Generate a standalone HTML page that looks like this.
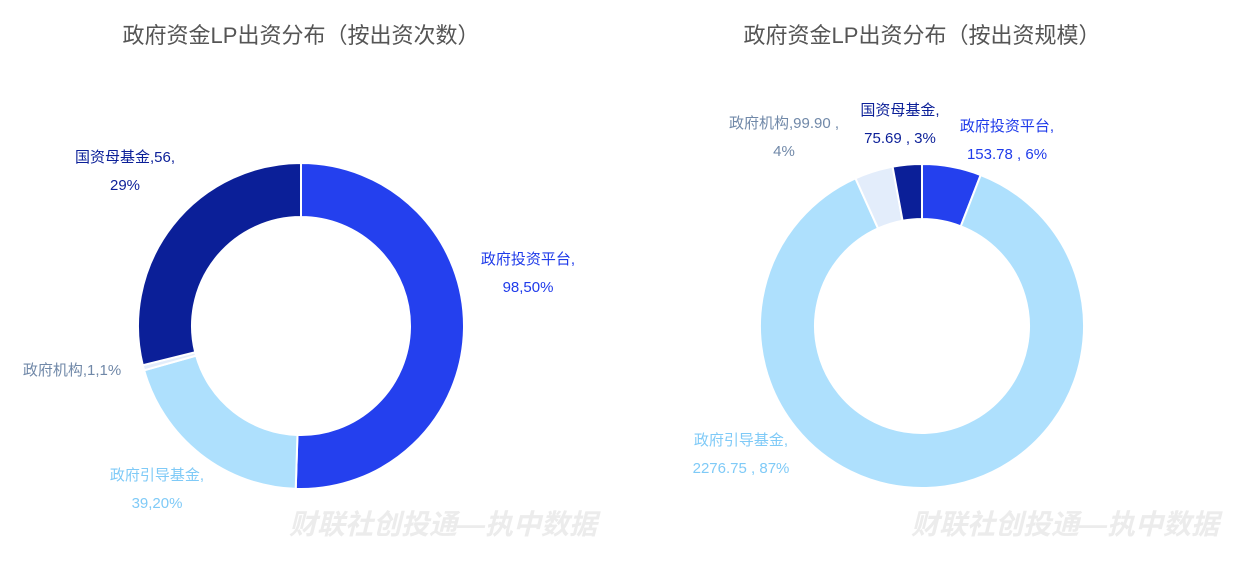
<!DOCTYPE html>
<html><head><meta charset="utf-8">
<style>
html,body{margin:0;padding:0;background:#fff;}
body{width:1242px;height:560px;overflow:hidden;font-family:"Liberation Sans","Noto Sans CJK SC",sans-serif;}
svg text{font-family:"Liberation Sans","Noto Sans CJK SC",sans-serif;}
</style></head>
<body>
<svg id="chart" width="1242" height="560" xmlns="http://www.w3.org/2000/svg">
<text x="301" y="43" text-anchor="middle" font-size="22" fill="#555">政府资金LP出资分布（按出资次数）</text>
<text x="922" y="43" text-anchor="middle" font-size="22" fill="#555">政府资金LP出资分布（按出资规模）</text>
<text x="443" y="534" text-anchor="middle" font-size="28" font-weight="bold" font-style="italic" fill="#ececec">财联社创投通—执中数据</text>
<text x="1065" y="534" text-anchor="middle" font-size="28" font-weight="bold" font-style="italic" fill="#ececec">财联社创投通—执中数据</text>
<g id="left"></g>
<g id="right"></g>
</svg>
<script>
const categories = ["政府投资平台","政府引导基金","政府机构","国资母基金"];
const colors = ["#2440ee","#aee0fd","#e3edfb","#0b1f98"];
const labelColors = ["#1f3bea","#7fcaf7","#7088a8","#0b1f98"];
const countValues = [98,39,1,56];
const countPct = ["50%","20%","1%","29%"];
const scaleValues = [153.78,2276.75,99.90,75.69];
const scalePct = ["6%","87%","4%","3%"];

const NS="http://www.w3.org/2000/svg";
function arcPath(cx,cy,r0,r1,a0,a1){
  const p=(r,a)=>[cx+r*Math.sin(a),cy-r*Math.cos(a)];
  const large=(a1-a0)>Math.PI?1:0;
  const [x0,y0]=p(r1,a0),[x1,y1]=p(r1,a1),[x2,y2]=p(r0,a1),[x3,y3]=p(r0,a0);
  return `M${x0},${y0}A${r1},${r1} 0 ${large} 1 ${x1},${y1}L${x2},${y2}A${r0},${r0} 0 ${large} 0 ${x3},${y3}Z`;
}
function donut(gid,values,cx,cy,r0,r1,prefix){
  const g=document.getElementById(gid);
  const total=values.reduce((a,b)=>a+b,0);
  let a=0;
  values.forEach((v,i)=>{
    const a1=a+v/total*2*Math.PI;
    const path=document.createElementNS(NS,"path");
    path.setAttribute("d",arcPath(cx,cy,r0,r1,a,a1));
    path.setAttribute("fill",colors[i]);
    path.setAttribute("stroke","#fff");
    path.setAttribute("stroke-width","2");
    
    
    g.appendChild(path);
    a=a1;
  });
}
function label(lines,x,y,color,anchor,name){
  const t=document.createElementNS(NS,"text");
  t.setAttribute("x",x);t.setAttribute("y",y);
  t.setAttribute("font-size","15");t.setAttribute("fill",color);
  t.setAttribute("text-anchor",anchor);
  
  
  lines.forEach((ln,i)=>{
    const s=document.createElementNS(NS,"tspan");
    s.setAttribute("x",x);s.setAttribute("dy",i?28:0);
    s.textContent=ln;t.appendChild(s);
  });
  document.getElementById("chart").appendChild(t);
}
donut("left",countValues,301,326,109,163,"count");
donut("right",scaleValues,922,326,107,162,"scale");

label([categories[0]+",",countValues[0]+","+countPct[0]],528,264,labelColors[0],"middle","left-label-platform");
label([categories[1]+",",countValues[1]+","+countPct[1]],157,480,labelColors[1],"middle","left-label-guide-fund");
label([categories[2]+","+countValues[2]+","+countPct[2]],72,375,labelColors[2],"middle","left-label-agency");
label([categories[3]+","+countValues[3]+",",countPct[3]],125,162,labelColors[3],"middle","left-label-state-fund");

label([categories[0]+",",scaleValues[0].toFixed(2)+" , "+scalePct[0]],1007,131,labelColors[0],"middle","right-label-platform");
label([categories[1]+",",scaleValues[1].toFixed(2)+" , "+scalePct[1]],741,445,labelColors[1],"middle","right-label-guide-fund");
label([categories[2]+","+scaleValues[2].toFixed(2)+" ,",scalePct[2]],784,128,labelColors[2],"middle","right-label-agency");
label([categories[3]+",",scaleValues[3].toFixed(2)+" , "+scalePct[3]],900,115,labelColors[3],"middle","right-label-state-fund");
</script>
</body></html>
